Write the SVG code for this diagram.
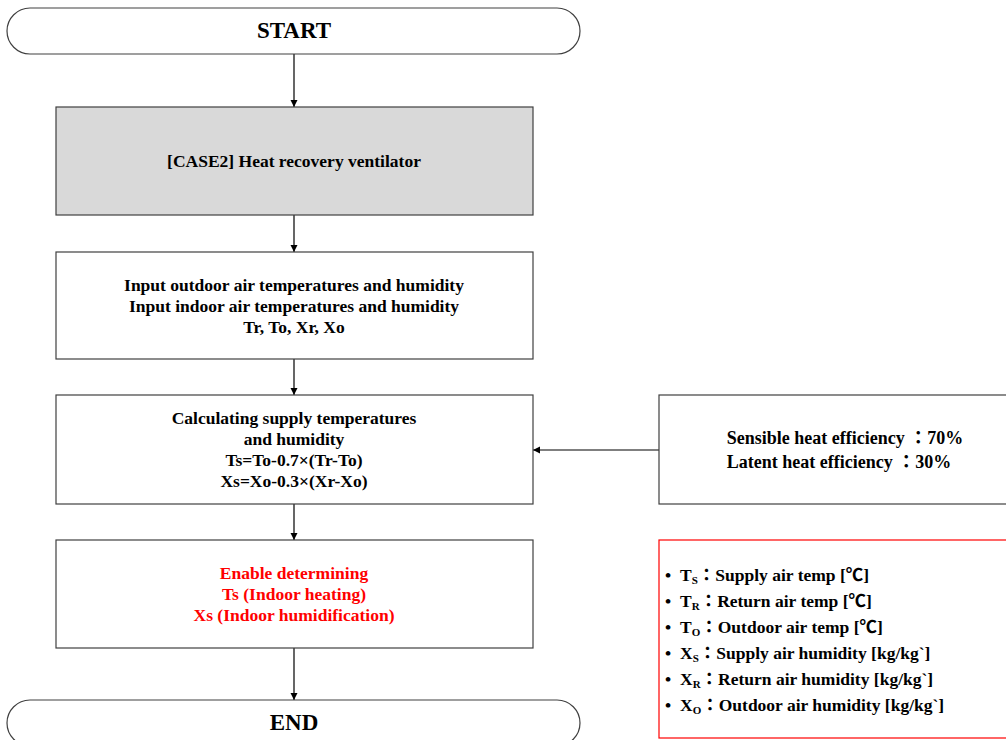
<svg xmlns="http://www.w3.org/2000/svg" width="1006" height="740" viewBox="0 0 1006 740">
<style>
text{font-family:"Liberation Serif","Noto Sans CJK KR",serif;font-weight:bold;fill:#000}
.b{font-size:17.5px;text-anchor:middle}
.e{font-size:18px;text-anchor:middle}
.t{font-size:23px;text-anchor:middle}
.red{fill:#ff0000}
.box{fill:#fff;stroke:#404040;stroke-width:1.2}
.lg{font-size:17.5px}
.sub{font-size:11px}
.c{stroke:#000;stroke-width:1.2;fill:none}
</style>
<defs>
<marker id="ah" markerWidth="8" markerHeight="8" refX="7" refY="4" orient="auto" markerUnits="userSpaceOnUse">
<path d="M0,0.5 L7,4 L0,7.5 Z" fill="#000"/>
</marker>
</defs>
<rect width="1006" height="740" fill="#fff"/>
<g id="connectors">
<line class="c" x1="294" y1="54" x2="294" y2="107" marker-end="url(#ah)"/>
<line class="c" x1="294" y1="215" x2="294" y2="252" marker-end="url(#ah)"/>
<line class="c" x1="294" y1="359" x2="294" y2="395" marker-end="url(#ah)"/>
<line class="c" x1="294" y1="504" x2="294" y2="540" marker-end="url(#ah)"/>
<line class="c" x1="294" y1="648" x2="294" y2="700" marker-end="url(#ah)"/>
<line class="c" x1="659" y1="450" x2="533" y2="450" marker-end="url(#ah)"/>
</g>
<g id="start">
<rect class="box" x="7" y="8" width="573" height="46" rx="23" ry="23"/>
<text class="t" x="294" y="38">START</text>
</g>
<g id="case2">
<rect x="56" y="107" width="477" height="108" fill="#d9d9d9" stroke="#404040" stroke-width="1.2"/>
<text class="b" x="294" y="167">[CASE2] Heat recovery ventilator</text>
</g>
<g id="input">
<rect class="box" x="56" y="252" width="477" height="107"/>
<text class="b" x="294" y="291">Input outdoor air temperatures and humidity</text>
<text class="b" x="294" y="312">Input indoor air temperatures and humidity</text>
<text class="b" x="294" y="333">Tr, To, Xr, Xo</text>
</g>
<g id="calc">
<rect class="box" x="56" y="395" width="477" height="109"/>
<text class="b" x="294" y="424">Calculating supply temperatures</text>
<text class="b" x="294" y="445">and humidity</text>
<text class="b" x="294" y="466">Ts=To-0.7×(Tr-To)</text>
<text class="b" x="294" y="487">Xs=Xo-0.3×(Xr-Xo)</text>
</g>
<g id="result">
<rect class="box" x="56" y="540" width="477" height="108"/>
<text class="b red" x="294" y="579">Enable determining</text>
<text class="b red" x="294" y="600">Ts (Indoor heating)</text>
<text class="b red" x="294" y="621">Xs (Indoor humidification)</text>
</g>
<g id="end">
<rect class="box" x="7" y="700" width="573" height="46" rx="23" ry="23"/>
<text class="t" x="294" y="730">END</text>
</g>
<g id="efficiency">
<rect class="box" x="659" y="395" width="360" height="109"/>
<text class="e" x="845" y="444">Sensible heat efficiency ：70%</text>
<text class="e" x="839" y="468">Latent heat efficiency ：30%</text>
</g>
<g id="legend">
<rect x="659" y="540" width="360" height="198" fill="#fff" stroke="#ff0000" stroke-width="1.2"/>
<text class="lg" y="581"><tspan x="665">•</tspan><tspan x="680">T</tspan><tspan class="sub" dy="3">S</tspan><tspan dy="-3">：Supply air temp [℃]</tspan></text>
<text class="lg" y="607"><tspan x="665">•</tspan><tspan x="680">T</tspan><tspan class="sub" dy="3">R</tspan><tspan dy="-3">：Return air temp [℃]</tspan></text>
<text class="lg" y="633"><tspan x="665">•</tspan><tspan x="680">T</tspan><tspan class="sub" dy="3">O</tspan><tspan dy="-3">：Outdoor air temp [℃]</tspan></text>
<text class="lg" y="659"><tspan x="665">•</tspan><tspan x="680">X</tspan><tspan class="sub" dy="3">S</tspan><tspan dy="-3">：Supply air humidity [kg/kg`]</tspan></text>
<text class="lg" y="685"><tspan x="665">•</tspan><tspan x="680">X</tspan><tspan class="sub" dy="3">R</tspan><tspan dy="-3">：Return air humidity [kg/kg`]</tspan></text>
<text class="lg" y="711"><tspan x="665">•</tspan><tspan x="680">X</tspan><tspan class="sub" dy="3">O</tspan><tspan dy="-3">：Outdoor air humidity [kg/kg`]</tspan></text>
</g>
</svg>
